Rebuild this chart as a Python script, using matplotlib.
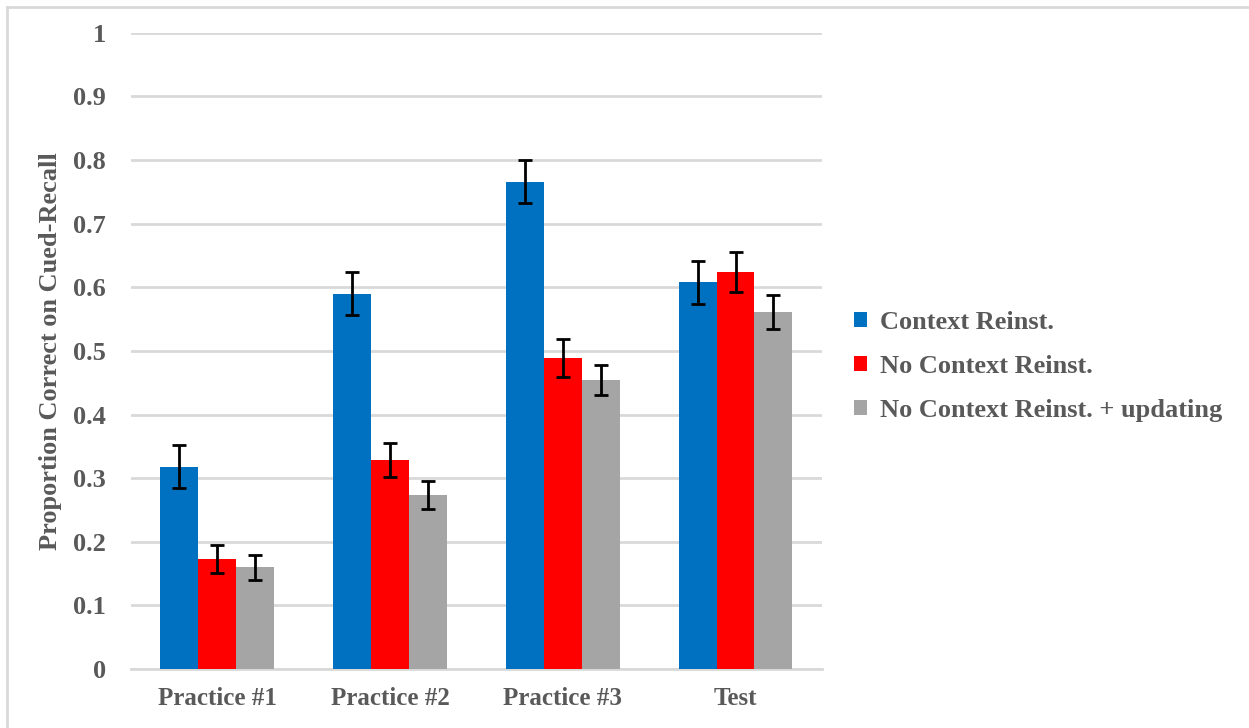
import numpy as np
import matplotlib.pyplot as plt
from matplotlib.lines import Line2D

categories = ["Practice #1", "Practice #2", "Practice #3", "Test"]
series = ["Context Reinst.", "No Context Reinst.", "No Context Reinst. + updating"]
colors = ["#0070C0", "#FF0000", "#A5A5A5"]

# mean proportion correct per condition
means = [
    [0.318, 0.590, 0.766, 0.608],
    [0.173, 0.329, 0.489, 0.624],
    [0.160, 0.274, 0.454, 0.561],
]
# standard errors
errors = [
    [0.034, 0.034, 0.034, 0.034],
    [0.022, 0.027, 0.030, 0.032],
    [0.020, 0.022, 0.024, 0.027],
]

plt.rcParams['font.family'] = ['Liberation Serif', 'DejaVu Serif']
text_color = "#595959"

fig = plt.figure(figsize=(12.49, 7.28), dpi=100)
ax = fig.add_axes([0.105, 0.081, 0.553, 0.874])

x = np.arange(len(categories))
width = 0.22
for i, (name, col) in enumerate(zip(series, colors)):
    ax.bar(x + (i - 1) * width, means[i], width, color=col, label=name,
           yerr=errors[i], error_kw=dict(ecolor="black", elinewidth=2,
                                         capsize=5, capthick=2),
           zorder=3)

ax.set_xlim(-0.5, len(categories) - 0.5)
ax.set_ylim(0, 1)
ax.set_yticks(np.arange(0, 1.01, 0.1))
ax.set_yticklabels(["0", "0.1", "0.2", "0.3", "0.4", "0.5", "0.6", "0.7", "0.8", "0.9", "1"])
ax.set_xticks(x)
ax.set_xticklabels(categories)
ax.yaxis.grid(True, color="#D9D9D9", linewidth=2, zorder=0)
ax.set_axisbelow(True)
for s in ["top", "right", "left"]:
    ax.spines[s].set_visible(False)
ax.spines["bottom"].set_color("#D9D9D9")
ax.spines["bottom"].set_linewidth(2)
ax.tick_params(axis="x", length=0, labelsize=18, labelcolor=text_color, pad=13)
ax.tick_params(axis="y", length=0, labelsize=19, labelcolor=text_color, pad=18)
for lab in ax.get_xticklabels() + ax.get_yticklabels():
    lab.set_fontweight("bold")

ax.set_ylabel("Proportion Correct on Cued-Recall", fontsize=19, fontweight="bold",
              color=text_color, labelpad=8)

leg = ax.legend(loc="center left", bbox_to_anchor=(1.012, 0.476), frameon=False,
                handlelength=0.5, handleheight=0.5, handletextpad=0.5,
                labelspacing=0.8, prop=dict(size=19, weight="bold"))
for t in leg.get_texts():
    t.set_color(text_color)

# light frame along the left and top edges
fig.add_artist(Line2D([7 / 1249, 7 / 1249], [0, 1 - 7 / 728], transform=fig.transFigure,
                      color="#D9D9D9", linewidth=2))
fig.add_artist(Line2D([7 / 1249, 1], [1 - 7 / 728, 1 - 7 / 728], transform=fig.transFigure,
                      color="#D9D9D9", linewidth=2))

fig.savefig("out.png", dpi=100)
